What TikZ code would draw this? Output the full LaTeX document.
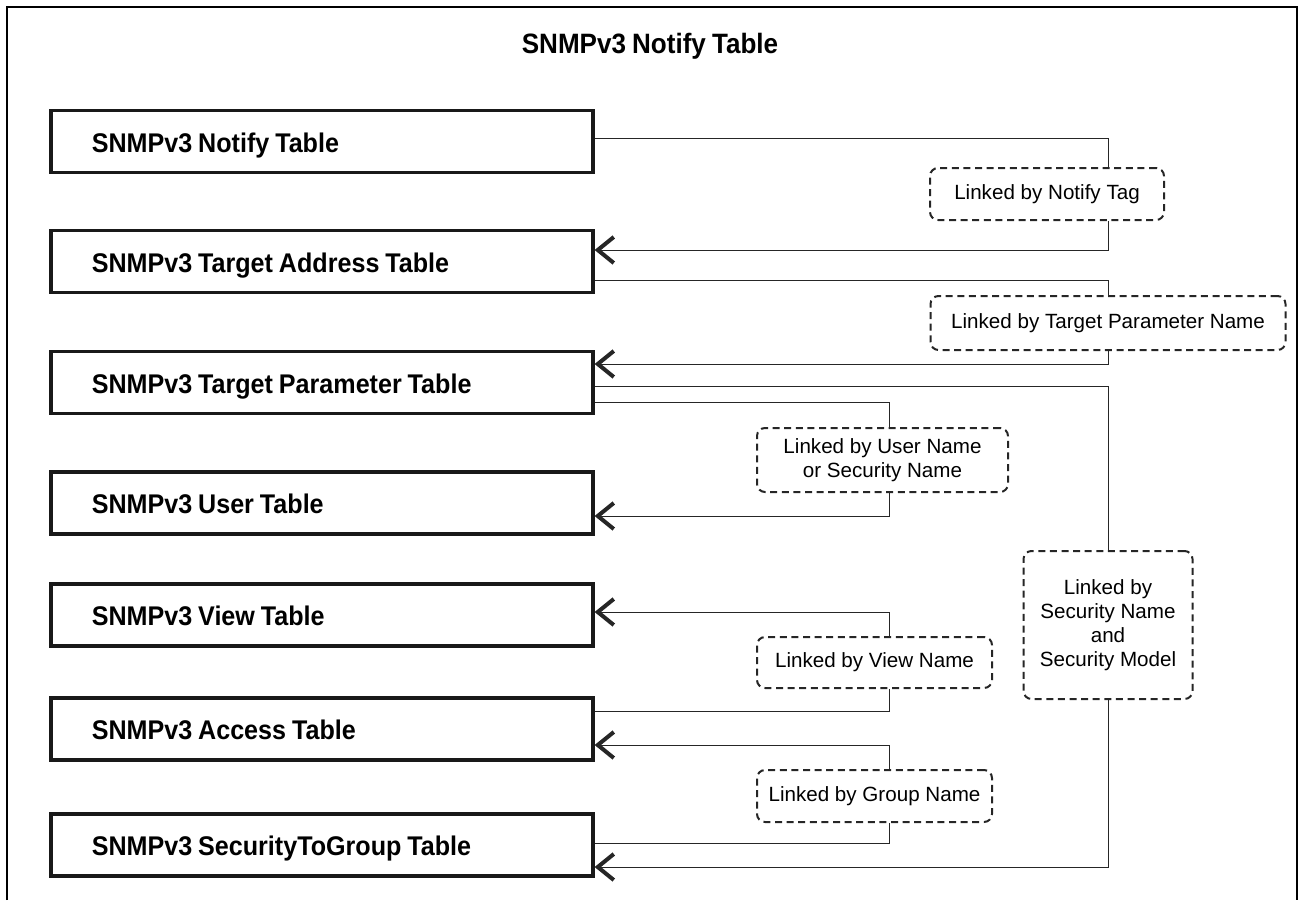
\documentclass[tikz,border=0pt]{standalone}
\usepackage{fontspec}
\setmainfont{Liberation Sans}
\newfontfamily\tblfont{Liberation Sans}[FakeStretch=0.93, WordSpace=0.85]
\usetikzlibrary{arrows.meta}
\tikzset{
  tbl/.style={draw=black!90, line width=1.8pt, anchor=west, minimum width=271pt,
    minimum height=31pt, text width=230pt, inner xsep=20.5pt, align=flush left,
    text height=10.5pt, text depth=0pt,
    font=\tblfont\bfseries\fontsize{13.5}{15}\selectfont},
  lnk/.style={draw=black!85, dash pattern=on 3.5pt off 2.3pt, line width=1pt,
    rounded corners=4pt, inner sep=0pt, align=center,
    font=\fontsize{10.3}{12}\selectfont},
  wire/.style={draw=black!85, line width=0.5pt},
  linkarrow/.style={wire, -{Straight Barb[length=8pt,width=13pt,line width=2pt]}}
}
\begin{document}
\begin{tikzpicture}[x=0.5pt,y=-0.5pt]%
% page and frame, open at the foot
\useasboundingbox (0,0) rectangle (1304,900);
\draw[line width=1.1pt] (7,900) -- (7,7) -- (1297,7) -- (1297,900);
\node[font=\tblfont\bfseries\fontsize{14}{16}\selectfont] (title) at (650,46) {SNMPv3 Notify Table};
% tables
\node[tbl] (notify) at (49,141.5) {SNMPv3 Notify Table};
\node[tbl] (ta) at (49,261.5) {SNMPv3 Target Address Table};
\node[tbl] (tp) at (49,382.5) {SNMPv3 Target Parameter Table};
\node[tbl] (user) at (49,503) {SNMPv3 User Table};
\node[tbl] (view) at (49,615) {SNMPv3 View Table};
\node[tbl] (access) at (49,729) {SNMPv3 Access Table};
\node[tbl] (stg) at (49,845) {SNMPv3 SecurityToGroup Table};
% links
\node[lnk, minimum width=117pt, minimum height=26pt] (tag) at (1047,194) {Linked by Notify Tag};
\node[lnk, minimum width=177.5pt, minimum height=27pt] (tpn) at (1108,323) {Linked by Target Parameter Name};
\node[lnk, minimum width=125.5pt, minimum height=32pt] (usr) at (882.5,460) {Linked by User Name\\or Security Name};
\node[lnk, minimum width=84.5pt, minimum height=74pt] (sec) at (1108,625) {Linked by\\Security Name\\and\\Security Model};
\node[lnk, minimum width=117.5pt, minimum height=25.5pt] (vname) at (874.5,662.5) {Linked by View Name};
\node[lnk, minimum width=117.5pt, minimum height=26pt] (grp) at (874.5,796) {Linked by Group Name};
\coordinate (busR) at (1108,0);
\coordinate (busM) at (889,0);
% connectors
\draw[wire] ([yshift=1.75pt]notify.east) -| (tag.north -| busR);
\draw[linkarrow] (tag.south -| busR) |- ([yshift=5.75pt]ta.east);
\draw[wire] ([yshift=-9.25pt]ta.east) -| (tpn.north);
\draw[linkarrow] (tpn.south) |- ([yshift=9.25pt]tp.east);
\draw[wire] ([yshift=-1.75pt]tp.east) -| (sec.north);
\draw[linkarrow] (sec.south) |- ([yshift=-11pt]stg.east);
\draw[wire] ([yshift=-9.75pt]tp.east) -| (usr.north -| busM);
\draw[linkarrow] (usr.south -| busM) |- ([yshift=-6.5pt]user.east);
\draw[wire] ([yshift=9pt]access.east) -| (vname.south -| busM);
\draw[linkarrow] (vname.north -| busM) |- ([yshift=1.5pt]view.east);
\draw[wire] ([yshift=1pt]stg.east) -| (grp.south -| busM);
\draw[linkarrow] (grp.north -| busM) |- ([yshift=-8pt]access.east);
\end{tikzpicture}
\end{document}
